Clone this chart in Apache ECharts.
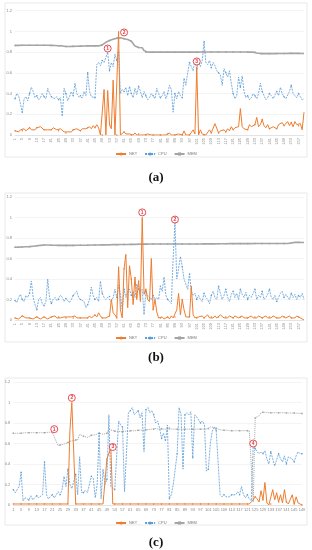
<!DOCTYPE html>
<html><head><meta charset="utf-8">
<script src="https://cdn.jsdelivr.net/npm/echarts@6/dist/echarts.min.js"></script>
<style>html,body{margin:0;padding:0;background:#fff}#c{width:312px;height:550px}</style>
</head><body><div id="c"></div>
<script>
// ---------- categories / tick labels ----------
const catsAB = Array.from({length:160}, (_, i) => String(i + 1));
const catsC = Array.from({length:149}, (_, i) => String(i + 1));
const yTicks = ['0','0.2','0.4','0.6','0.8','1','1.2'];
const legendNames = ['NET','CPU','MEM'];
const captions = ['(a)','(b)','(c)'];

// ---------- panel (a) ----------
const netA = [
.04,.05,.03,.05,.04,.06,.04,.05,.07,.05,
.06,.05,.07,.06,.08,.07,.05,.06,.05,.06,
.05,.07,.06,.05,.04,.06,.05,.03,.02,.03,
.04,.03,.05,.04,.06,.05,.04,.06,.07,.06,
.07,.08,.06,.09,.07,.10,.07,0,0,.44,
0,.43,.10,.06,.53,0,0,1.0,0,0,
.03,.01,0,.01,0,0,.02,0,.01,0,
0,0,0,.01,0,0,0,0,0,0,
0,0,0,0,.01,.02,0,0,0,0,
.01,0,0,.04,0,0,0,0,.05,.01,
.65,0,.05,.01,0,0,0,.05,.02,.01,
.11,.10,.02,.04,.03,.05,.03,.06,.04,.08,
.05,.07,.06,.08,.25,.08,.06,.07,.05,.10,
.08,.09,.10,.17,.08,.10,.15,.09,.07,.10,
.06,.05,.08,.07,.06,.10,.11,.12,.09,.08,
.13,.09,.12,.08,.13,.10,.09,.11,.05,.22];
const cpuA = [
.35,.40,.38,.30,.22,.35,.37,.33,.40,.46,
.42,.36,.38,.34,.36,.40,.37,.35,.45,.40,
.37,.36,.35,.37,.34,.36,.18,.45,.40,.33,
.37,.42,.38,.50,.40,.37,.38,.36,.42,.38,
.60,.42,.37,.38,.36,.68,.70,.67,.72,.70,
.75,.80,.62,.70,.66,.78,.72,.81,.40,.44,
.42,.46,.38,.47,.40,.36,.45,.39,.47,.42,
.36,.42,.38,.34,.36,.40,.38,.35,.45,.40,
.36,.38,.42,.35,.40,.48,.44,.22,.40,.35,
.42,.38,.36,.55,.48,.60,.70,.66,.62,.72,
.64,.70,.66,.72,.90,.70,.68,.72,.65,.70,
.67,.62,.60,.58,.48,.64,.60,.56,.62,.50,
.40,.35,.38,.56,.46,.57,.42,.36,.38,.34,
.36,.40,.38,.35,.40,.50,.42,.38,.34,.36,
.40,.38,.35,.36,.42,.38,.46,.40,.37,.35,
.36,.42,.48,.40,.38,.36,.40,.37,.34,.35];
const memA = [
.865,.865,.865,.866,.866,.866,.866,.866,.866,.866,
.866,.866,.867,.867,.867,.867,.866,.866,.866,.865,
.865,.864,.864,.863,.862,.861,.860,.858,.855,.855,
.855,.855,.856,.856,.857,.858,.858,.858,.859,.860,
.860,.860,.860,.860,.860,.860,.860,.862,.870,.885,
.895,.905,.912,.918,.925,.930,.935,.940,.938,.935,
.930,.928,.922,.915,.905,.890,.860,.852,.845,.848,
.842,.815,.800,.800,.800,.800,.800,.800,.800,.800,
.800,.800,.799,.800,.800,.801,.800,.800,.800,.800,
.800,.800,.800,.800,.801,.801,.800,.800,.800,.800,
.800,.800,.800,.801,.801,.801,.801,.802,.802,.802,
.802,.802,.802,.802,.802,.802,.802,.802,.802,.802,
.802,.802,.802,.802,.801,.801,.801,.801,.800,.800,
.800,.800,.798,.792,.788,.786,.786,.786,.786,.786,
.786,.786,.786,.786,.787,.787,.787,.787,.787,.787,
.787,.788,.788,.788,.788,.788,.788,.787,.787,.787];
const marksA = [['1',51,0.835],['2',60,0.99],['3',100,0.71]];

// ---------- panel (b) ----------
const netB = [
.02,.03,.01,.02,.04,.03,.02,.03,.02,.03,
.01,.02,.03,.02,.01,.02,.03,.02,.01,.02,
.03,.02,.04,.02,.03,.02,.01,.03,.02,.03,
.02,.03,.02,.04,.02,.03,.02,.01,.02,.03,
.02,.04,.02,.03,.05,.03,.07,.04,.02,.03,
.02,.03,.04,.20,.07,.05,.02,.52,.10,.02,
.50,.64,.12,.53,.40,.15,.42,.20,.38,.18,
1.0,.25,.30,.20,.18,.60,.10,.20,.08,.02,
.02,.03,.01,.02,.03,.01,.04,.02,.03,.10,
.26,.05,.20,.10,.03,.02,.03,.33,.05,.02,
.02,.03,.02,.04,.02,.03,.05,.02,.03,.02,
.04,.02,.03,.05,.04,.02,.03,.02,.04,.03,
.02,.04,.03,.02,.03,.04,.02,.03,.02,.03,
.04,.02,.03,.02,.04,.03,.02,.03,.04,.02,
.03,.02,.04,.03,.02,.03,.02,.04,.03,.02,
.03,.04,.02,.03,.02,.04,.03,.02,.03,.00];
const cpuB = [
.19,.17,.22,.25,.20,.18,.24,.22,.26,.38,
.22,.15,.10,.20,.22,.16,.14,.18,.40,.22,
.16,.20,.22,.19,.20,.24,.22,.18,.21,.20,
.17,.20,.24,.26,.28,.22,.20,.20,.18,.12,
.15,.20,.32,.24,.20,.22,.18,.38,.26,.22,
.20,.22,.23,.18,.22,.30,.22,.34,.25,.10,
.30,.22,.28,.30,.24,.28,.22,.35,.30,.28,
.30,.05,.28,.24,.22,.20,.24,.20,.22,.20,
.33,.28,.42,.24,.20,.18,.16,.60,.95,.40,
.50,.62,.52,.40,.35,.30,.45,.28,.24,.26,
.20,.24,.20,.18,.26,.22,.20,.16,.24,.28,
.22,.20,.33,.26,.20,.24,.30,.22,.18,.25,
.28,.22,.26,.20,.30,.25,.22,.27,.20,.24,
.22,.26,.30,.20,.24,.22,.28,.20,.22,.25,
.30,.22,.20,.24,.18,.22,.26,.28,.22,.25,
.24,.20,.26,.22,.25,.20,.24,.22,.26,.20];
const memB = [
.710,.710,.711,.712,.712,.713,.714,.715,.716,.718,
.720,.722,.724,.726,.728,.730,.731,.732,.732,.731,
.730,.730,.729,.729,.728,.728,.728,.728,.728,.728,
.728,.728,.728,.729,.729,.729,.730,.730,.730,.730,
.730,.730,.731,.731,.732,.732,.732,.733,.733,.733,
.733,.734,.734,.734,.735,.735,.735,.736,.736,.736,
.737,.737,.737,.738,.738,.738,.738,.739,.739,.739,
.740,.740,.740,.741,.741,.741,.742,.742,.742,.742,
.742,.742,.742,.742,.742,.742,.742,.742,.742,.742,
.742,.742,.742,.742,.742,.742,.742,.742,.742,.742,
.742,.742,.742,.743,.743,.743,.743,.743,.743,.743,
.743,.744,.744,.744,.744,.744,.744,.744,.745,.745,
.745,.745,.745,.745,.745,.745,.745,.745,.745,.745,
.745,.746,.746,.746,.746,.746,.746,.746,.746,.746,
.746,.746,.746,.746,.746,.746,.746,.746,.746,.746,
.746,.746,.752,.756,.757,.757,.757,.757,.756,.756];
const marksB = [['1',70,1.05],['2',88,0.98]];

// ---------- panel (c) ----------
const netC = [
.01,.01,.01,.01,.01,.01,.01,.01,.01,.01,
.01,.01,.01,.01,.01,.01,.01,.01,.01,.01,
.01,.01,.01,.01,.01,.01,.01,.01,.01,.72,
1.0,.50,.01,.01,.01,.01,.01,.01,.01,.01,
.01,.01,.01,.01,.01,.01,.01,.01,.45,.45,
.56,.01,.01,.01,.01,.01,.01,.01,.01,.01,
.01,.01,.01,.01,.01,.01,.01,.01,.01,.01,
.01,.01,.01,.01,.01,.01,.01,.01,.01,.01,
.01,.01,.01,.01,.01,.01,.01,.01,.01,.01,
.01,.01,.01,.01,.01,.01,.01,.01,.01,.01,
.01,.01,.01,.01,.01,.01,.01,.01,.01,.01,
.01,.01,.01,.01,.01,.01,.01,.01,.01,.01,
.01,.01,.01,.05,.08,.06,.03,.14,.05,.22,
.02,0,.01,.15,.05,.12,.03,.10,.02,.15,
.03,.01,.02,.10,.01,.08,.02,.01,0];
const cpuC = [
.15,.12,.12,.18,.32,.04,.07,.08,.05,.09,
.05,.06,.09,.07,.08,.10,.42,.10,.06,.08,
.10,.07,.10,.13,.10,.15,.28,.18,.35,.20,
.16,.23,.30,.10,.47,.12,.12,.14,.12,.13,
.28,.26,.07,.20,.70,.06,.35,.20,.25,.88,
.18,.17,.15,.16,.82,.78,.76,.13,.50,.90,
.92,.95,.88,.90,.92,.85,.90,.52,.93,.95,
.90,.92,.88,.80,.82,.75,.65,.70,.62,.78,
.06,.10,.20,.20,.50,.95,.88,.35,.88,.90,
.88,.91,.46,.88,.86,.85,.80,.82,.78,.33,
.35,.60,.72,.76,.73,.72,.10,.08,.10,.08,
.09,.08,.10,.09,.10,.13,.10,.18,.10,.07,
.10,.06,.04,.60,.55,.52,.50,.52,.50,.53,
.45,.40,.52,.45,.38,.44,.50,.45,.42,.48,
.40,.47,.48,.45,.42,.48,.52,.50,.50];
const memC = [
.700,.700,.700,.700,.700,.700,.705,.705,.705,.705,
.705,.705,.705,.705,.705,.705,.705,.705,.710,.710,
.710,.700,.620,.580,.585,.590,.595,.600,.610,.620,
.625,.630,.635,.635,.690,.675,.670,.665,.660,.665,
.680,.690,.685,.680,.700,.695,.690,.700,.700,.740,
.730,.725,.720,.720,.720,.715,.715,.720,.720,.720,
.725,.725,.725,.725,.730,.730,.730,.730,.735,.735,
.735,.740,.740,.745,.750,.740,.745,.740,.750,.740,
.750,.740,.740,.740,.740,.740,.740,.740,.740,.740,
.740,.740,.740,.740,.740,.740,.740,.740,.740,.740,
.745,.760,.750,.760,.750,.740,.735,.730,.730,.730,
.725,.725,.725,.725,.725,.725,.725,.725,.725,.725,
.725,.725,.725,.030,.850,.860,.870,.900,.905,.905,
.900,.900,.900,.900,.900,.900,.900,.900,.900,.900,
.898,.898,.898,.897,.897,.896,.895,.894,.893];
const marksC = [['1',21,0.74],['2',30,1.045],['3',51,0.566],['4',123,0.60]];

// ---------- layout ----------
const panels = [
  {cats:catsAB, net:netA, cpu:cpuA, mem:memA, marks:marksA,
   grid:{left:15, right:8, top:10.7, height:124.3}, box:[5,3,302,154], legendTop:147, capTop:166, rotate:90, memType:'solid', memW:1.6},
  {cats:catsAB, net:netB, cpu:cpuB, mem:memB, marks:marksB,
   grid:{left:15, right:8, top:197, height:123}, box:[5,193,302,149], legendTop:331, capTop:346, rotate:90, memType:'solid', memW:1.6},
  {cats:catsC, net:netC, cpu:cpuC, mem:memC, marks:marksC,
   grid:{left:13.3, right:10, top:382, height:123}, box:[5,378,302,147], legendTop:516, capTop:531, rotate:0, memType:'dotted', memW:1}
];

const C_NET = '#ED7D31', C_CPU = '#5B9BD5', C_MEM = '#A5A5A5', C_RED = '#E0393E';

const option = {
  animation:false,
  backgroundColor:'#fff',
  graphic: panels.map(p => ({type:'rect', shape:{x:p.box[0], y:p.box[1], width:p.box[2], height:p.box[3]},
      style:{fill:'none', stroke:'#e3e3e3', lineWidth:0.8}, silent:true, z:-1})),
  title: panels.map((p, i) => ({text:captions[i], left:'center', top:p.capTop,
      textStyle:{fontFamily:'Liberation Serif', fontWeight:'bold', fontSize:13, color:'#111'}})),
  legend: panels.map(p => ({data:legendNames, top:p.legendTop, left:'center', itemWidth:10, itemHeight:4, itemGap:7,
      textStyle:{fontSize:4, color:'#777', fontFamily:'Liberation Sans', padding:[0,0,0,-2]}})),
  grid: panels.map(p => Object.assign({}, p.grid)),
  xAxis: panels.map((p, i) => ({type:'category', gridIndex:i, data:p.cats, boundaryGap:false,
      axisTick:{show:false}, axisLine:{lineStyle:{color:'#d6d6d6', width:0.6}},
      axisLabel:{fontSize:4, color:'#888', interval:3, rotate:p.rotate, margin:3, fontFamily:'Liberation Sans'},
      splitLine:{show:false}})),
  yAxis: panels.map((p, i) => ({type:'value', gridIndex:i, min:0, max:1.2, interval:0.2,
      axisLine:{show:false}, axisTick:{show:false},
      axisLabel:{fontSize:4, color:'#888', margin:3, fontFamily:'Liberation Sans',
        formatter:v => yTicks[Math.round(v / 0.2)]},
      splitLine:{lineStyle:{color:'#ececec', width:0.6}}})),
  series: []
};

panels.forEach((p, i) => {
  option.series.push({name:'MEM', type:'line', xAxisIndex:i, yAxisIndex:i, data:p.mem,
    symbol:'rect', symbolSize:1.5, showSymbol:true, itemStyle:{color:C_MEM},
    lineStyle:{color:C_MEM, width:p.memW, type:p.memType}, z:2});
  option.series.push({name:'CPU', type:'line', xAxisIndex:i, yAxisIndex:i, data:p.cpu,
    symbol:'circle', symbolSize:1.5, showSymbol:true, itemStyle:{color:C_CPU},
    lineStyle:{color:C_CPU, width:0.8, type:[2,1]}, z:3});
  option.series.push({name:'NET', type:'line', xAxisIndex:i, yAxisIndex:i, data:p.net,
    symbol:'circle', symbolSize:1.5, showSymbol:true, itemStyle:{color:C_NET},
    lineStyle:{color:C_NET, width:1}, z:4,
    markPoint:{symbol:'circle', symbolSize:7, silent:true, z:10,
      itemStyle:{color:'#fff', borderColor:C_RED, borderWidth:0.9},
      label:{show:true, position:'inside', color:C_RED, fontSize:5, fontWeight:'bold', formatter:d => d.name},
      data:p.marks.map(m => ({name:m[0], coord:[m[1], m[2]]}))}});
});

const chart = echarts.init(document.getElementById('c'), null, {renderer:'canvas'});
chart.setOption(option);
</script>
</body></html>
